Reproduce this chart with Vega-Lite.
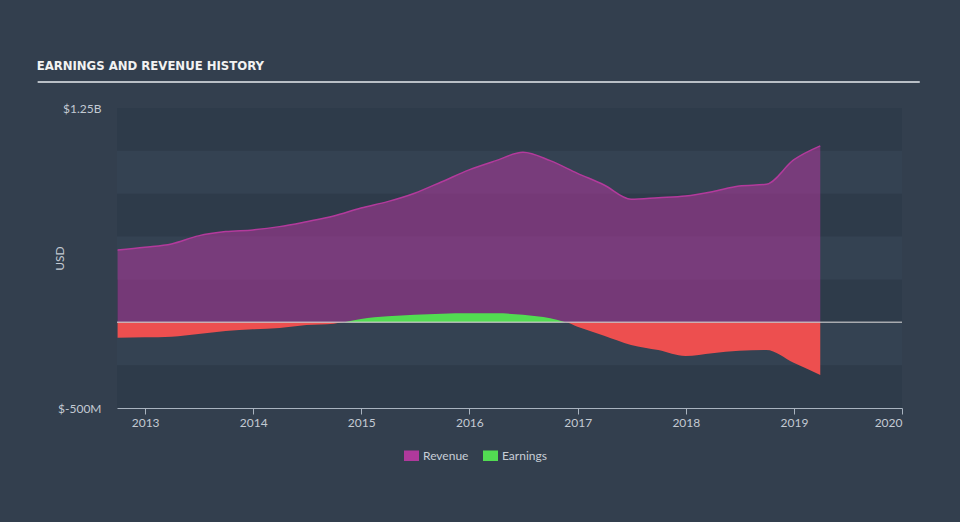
{
  "$schema": "https://vega.github.io/schema/vega-lite/v6.json",
  "width": 785,
  "height": 300,
  "padding": {"left": 36, "top": 59, "right": 45, "bottom": 65},
  "background": "#333f4e",
  "title": {
    "text": "EARNINGS AND REVENUE HISTORY",
    "anchor": "start",
    "frame": "bounds",
    "font": "'DejaVu Sans Condensed', 'Liberation Sans Narrow', 'Roboto Condensed', sans-serif",
    "fontSize": 13,
    "fontWeight": "bold",
    "color": "#f2f2f2",
    "offset": 8
  },
  "config": {
    "view": {"stroke": null, "fill": "#344252"},
    "axisX": {
      "domainColor": "#a9b3bf",
      "tickColor": "#a9b3bf",
      "tickSize": 6,
      "labelColor": "#c3cad3",
      "labelFontSize": 12,
      "labelFont": "Lato",
      "labelPadding": 3,
      "grid": false
    },
    "axisY": {
      "domain": false,
      "ticks": false,
      "grid": false,
      "labelColor": "#c3cad3",
      "labelFontSize": 12,
      "labelFont": "Lato",
      "labelPadding": 16,
      "titleColor": "#c3cad3",
      "titleFont": "Lato",
      "titleFontSize": 12,
      "titleFontWeight": "normal",
      "titleX": -51
    },
    "legend": {
      "orient": "none",
      "legendX": 287,
      "legendY": 340,
      "direction": "horizontal",
      "labelColor": "#c8ced6",
      "labelFontSize": 12,
      "labelFont": "Lato",
      "symbolType": "M-1,-0.7H1V0.7H-1Z",
      "symbolSize": 225,
      "symbolOpacity": 1,
      "symbolStrokeWidth": 0,
      "columnPadding": 14
    }
  },
  "datasets": {
    "hist": [
      {"date": "2012-09-30", "revenue": 422000000, "earnings": -90000000},
      {"date": "2012-12-31", "revenue": 438000000, "earnings": -88000000},
      {"date": "2013-03-31", "revenue": 457000000, "earnings": -84000000},
      {"date": "2013-06-30", "revenue": 504000000, "earnings": -68000000},
      {"date": "2013-09-30", "revenue": 529000000, "earnings": -51000000},
      {"date": "2013-12-31", "revenue": 539000000, "earnings": -41000000},
      {"date": "2014-03-31", "revenue": 558000000, "earnings": -33000000},
      {"date": "2014-06-30", "revenue": 587000000, "earnings": -16000000},
      {"date": "2014-09-30", "revenue": 620000000, "earnings": -8000000},
      {"date": "2014-11-05", "revenue": null, "earnings": 0},
      {"date": "2014-12-31", "revenue": 667000000, "earnings": 19000000},
      {"date": "2015-03-31", "revenue": 704000000, "earnings": 35000000},
      {"date": "2015-06-30", "revenue": 753000000, "earnings": 44000000},
      {"date": "2015-09-30", "revenue": 820000000, "earnings": 50000000},
      {"date": "2015-12-31", "revenue": 889000000, "earnings": 52000000},
      {"date": "2016-03-31", "revenue": 943000000, "earnings": 52000000},
      {"date": "2016-06-30", "revenue": 992000000, "earnings": 44000000},
      {"date": "2016-09-30", "revenue": 943000000, "earnings": 23000000},
      {"date": "2016-11-20", "revenue": null, "earnings": 0},
      {"date": "2016-12-31", "revenue": 869000000, "earnings": -26000000},
      {"date": "2017-03-31", "revenue": 801000000, "earnings": -78000000},
      {"date": "2017-06-30", "revenue": 718000000, "earnings": -132000000},
      {"date": "2017-09-30", "revenue": 727000000, "earnings": -162000000},
      {"date": "2017-12-31", "revenue": 737000000, "earnings": -197000000},
      {"date": "2018-03-31", "revenue": 762000000, "earnings": -181000000},
      {"date": "2018-06-30", "revenue": 795000000, "earnings": -166000000},
      {"date": "2018-09-30", "revenue": 805000000, "earnings": -162000000},
      {"date": "2018-12-31", "revenue": 947000000, "earnings": -236000000},
      {"date": "2019-03-31", "revenue": 1029000000, "earnings": -307000000}
    ],
    "bands": [
      {"lo": 1000000000, "hi": 1250000000},
      {"lo": 500000000, "hi": 750000000},
      {"lo": 0, "hi": 250000000},
      {"lo": -500000000, "hi": -250000000}
    ]
  },
  "layer": [
    {
      "data": {"name": "bands"},
      "mark": {"type": "rect", "color": "#2e3b4a"},
      "encoding": {
        "x": {
          "datum": {"year": 2012, "month": 9, "date": 28},
          "type": "temporal",
          "scale": {
            "domain": [
              {"year": 2012, "month": 9, "date": 28},
              {"year": 2020, "month": 1, "date": 1}
            ],
            "nice": false
          },
          "axis": {"format": "%Y", "tickCount": {"interval": "year", "step": 1}, "title": null}
        },
        "x2": {"datum": {"year": 2020, "month": 1, "date": 1}},
        "y": {
          "field": "lo",
          "type": "quantitative",
          "title": "USD",
          "scale": {"domain": [-500000000, 1250000000], "nice": false, "zero": false},
          "axis": {
            "values": [-500000000, 1250000000],
            "labelExpr": "datum.value > 0 ? '$1.25B' : '$-500M'"
          }
        },
        "y2": {"field": "hi"}
      }
    },
    {
      "data": {"name": "hist"},
      "transform": [{"filter": "datum.revenue != null"}],
      "mark": {"type": "area", "interpolate": "monotone", "fillOpacity": 0.55},
      "encoding": {
        "x": {"field": "date", "type": "temporal", "title": null},
        "y": {"field": "revenue", "type": "quantitative", "title": "USD", "stack": null},
        "color": {
          "datum": "Revenue",
          "scale": {"domain": ["Revenue", "Earnings"], "range": ["#b0399c", "#52dc52"]},
          "legend": {"title": null}
        }
      }
    },
    {
      "data": {"name": "hist"},
      "transform": [{"filter": "datum.earnings >= 0"}],
      "mark": {"type": "area", "interpolate": "monotone"},
      "encoding": {
        "x": {"field": "date", "type": "temporal", "title": null},
        "y": {"field": "earnings", "type": "quantitative", "title": "USD", "stack": null},
        "color": {"datum": "Earnings"}
      }
    },
    {
      "data": {"name": "hist"},
      "transform": [{"filter": "datum.earnings <= 0"}],
      "mark": {"type": "area", "interpolate": "monotone", "color": "#ed4f4f"},
      "encoding": {
        "x": {"field": "date", "type": "temporal", "title": null},
        "y": {"field": "earnings", "type": "quantitative", "title": "USD", "stack": null}
      }
    },
    {
      "data": {"name": "hist"},
      "transform": [{"filter": "datum.revenue != null"}],
      "mark": {"type": "line", "interpolate": "monotone", "color": "#b33a9c", "strokeWidth": 1.5},
      "encoding": {
        "x": {"field": "date", "type": "temporal", "title": null},
        "y": {"field": "revenue", "type": "quantitative", "title": "USD"}
      }
    },
    {
      "data": {"values": [{}]},
      "mark": {"type": "rule", "color": "#d0d0d0", "opacity": 0.75, "strokeWidth": 1.5},
      "encoding": {
        "y": {"datum": 0, "type": "quantitative"}
      }
    },
    {
      "data": {"values": [{}]},
      "mark": {"type": "rule", "color": "#b9bfc6", "strokeWidth": 2, "clip": false},
      "encoding": {
        "x": {"datum": {"year": 2012, "month": 1, "date": 4}, "type": "temporal"},
        "x2": {"datum": {"year": 2020, "month": 3, "date": 1}},
        "y": {"datum": 1402000000, "type": "quantitative"}
      }
    }
  ]
}
